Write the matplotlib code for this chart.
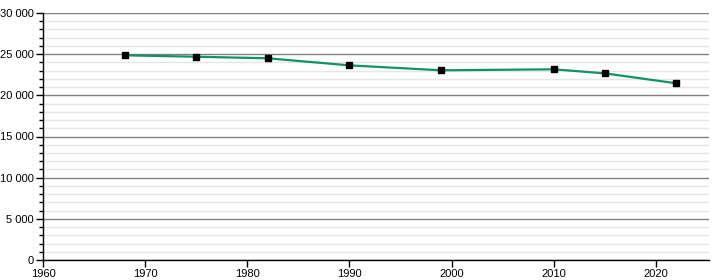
import matplotlib

matplotlib.use("Agg")
import matplotlib.pyplot as plt
from matplotlib.ticker import FuncFormatter, MultipleLocator

years = [1968, 1975, 1982, 1990, 1999, 2010, 2015, 2022]
population = [24860, 24690, 24500, 23640, 23040, 23160, 22670, 21460]

plt.rcParams["font.family"] = ["Liberation Sans", "DejaVu Sans"]

fig = plt.figure(figsize=(7.2, 2.8), dpi=100)
ax = fig.add_axes([43 / 720, 20 / 280, 666 / 720, 247 / 280])

ax.plot(years, population, color="#13916b", linewidth=1.6, zorder=3)
ax.plot(years, population, linestyle="none", marker="s", markersize=4, color="black", zorder=4)

ax.set_xlim(1960, 2025.2)
ax.set_ylim(0, 30000)
ax.xaxis.set_major_locator(MultipleLocator(10))
ax.yaxis.set_major_locator(MultipleLocator(5000))
ax.yaxis.set_minor_locator(MultipleLocator(1000))
ax.yaxis.set_major_formatter(FuncFormatter(lambda v, _: f"{int(v):,}".replace(",", " ")))

ax.grid(axis="y", which="major", color="#808080", linewidth=1.0, zorder=1)
ax.grid(axis="y", which="minor", color="#e6e6e6", linewidth=1.0, zorder=0)
ax.set_axisbelow(True)

for side in ("top", "right"):
    ax.spines[side].set_visible(False)
for side in ("left", "bottom"):
    ax.spines[side].set_linewidth(1.0)

ax.tick_params(axis="both", which="major", length=5, width=1, labelsize=8,
               direction="out", pad=1.5)
ax.tick_params(axis="y", which="minor", length=3, width=1, direction="out")

fig.savefig("out.png", dpi=100)
